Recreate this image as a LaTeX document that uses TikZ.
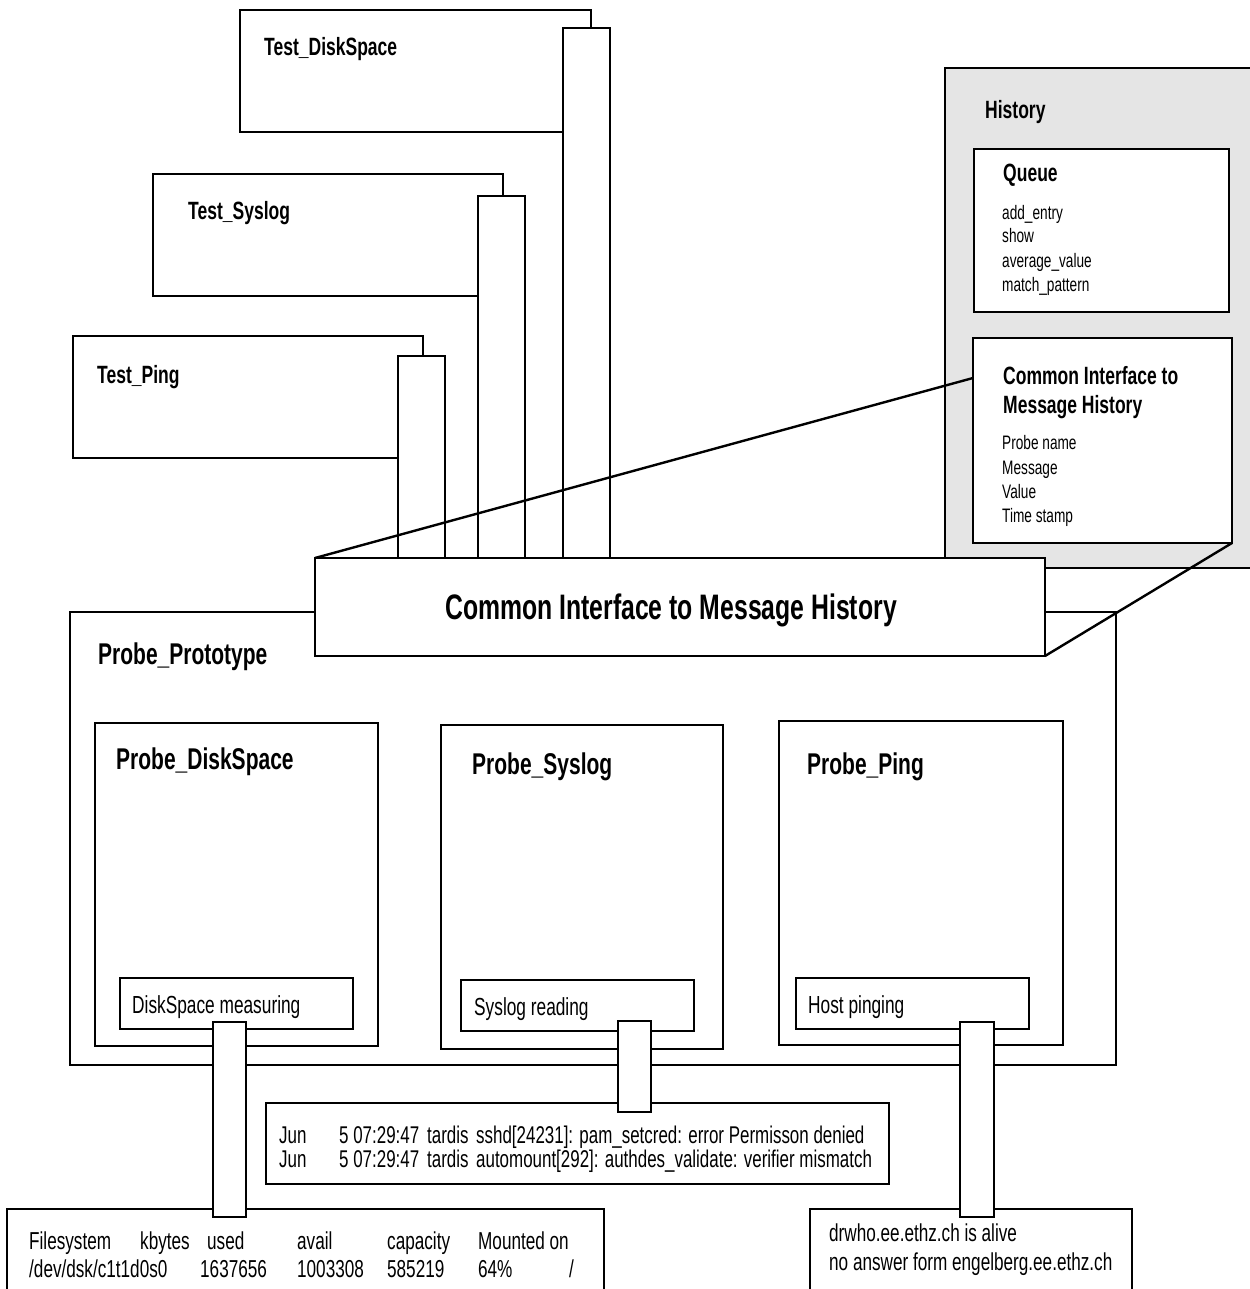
\documentclass[tikz,border=0pt]{standalone}
\usepackage{fontspec}
\setmainfont{Liberation Sans}[FakeStretch=0.7]
\begin{document}
\begin{tikzpicture}[x=1pt,y=-1pt,line width=2.4pt,
  box/.style={draw=black,fill=white,inner sep=0pt,outer sep=0pt,anchor=north west},
  hbox/.style={box,fill=black!10},
  ttl/.style={font=\fontsize{25}{30}\selectfont\bfseries,anchor=base west,inner sep=0pt},
  itm/.style={font=\fontsize{19.5}{24}\selectfont,anchor=base west,inner sep=0pt},
  ptl/.style={font=\fontsize{30}{36}\selectfont\bfseries,anchor=base west,inner sep=0pt},
  lbl/.style={font=\fontsize{24.7}{30}\selectfont,anchor=base west,inner sep=0pt},
  outt/.style={font=\fontsize{24.5}{30}\selectfont,anchor=base west,inner sep=0pt},
  outs/.style={font=\fontsize{24.2}{30}\selectfont,anchor=base west,inner sep=0pt},
  bigt/.style={font=\fontsize{35.4}{42}\selectfont\bfseries,anchor=base,inner sep=0pt}]
\newcommand\bx[6][]{\node[box,#1,minimum width={(#5-#3)*1pt},minimum height={(#6-#4)*1pt}] (#2) at (#3,#4) {};}
\useasboundingbox (0,0) rectangle (1249,1289);
% History
\bx[hbox]{hist}{945}{68}{1258}{568}
\node[ttl] (histT) at (984,119) {History};
\bx{queue}{974}{149}{1229}{312}
\node[ttl] (queueT) at (1002,182) {Queue};
\node[itm] (q1) at (1001,220) {add\_entry};
\node[itm] (q2) at (1001,243) {show};
\node[itm] (q3) at (1001,267) {average\_value};
\node[itm] (q4) at (1001,291) {match\_pattern};
\bx{ciin}{973}{338}{1232}{543}
\node[ttl] (ciinT1) at (1002,384) {Common Interface to};
\node[ttl] (ciinT2) at (1002,413) {Message History};
\node[itm] (c1) at (1001,449) {Probe name};
\node[itm] (c2) at (1001,474) {Message};
\node[itm] (c3) at (1001,498) {Value};
\node[itm] (c4) at (1001,522) {Time stamp};
% Tests
\bx{tdisk}{240}{10}{591}{132}
\node[ttl] (tdiskT) at (263,56) {Test\_DiskSpace};
\bx{tsys}{153}{174}{503}{296}
\node[ttl] (tsysT) at (187,220) {Test\_Syslog};
\bx{tping}{73}{336}{423}{458}
\node[ttl] (tpingT) at (96,383) {Test\_Ping};
\bx{bdisk}{563}{28}{610}{558}
\bx{bsys}{478}{196}{525}{558}
\bx{bping}{398}{356}{445}{558}
% Prototype
\bx{proto}{70}{612}{1116}{1065}
\node[ptl] (protoT) at (97,664) {Probe\_Prototype};
\bx{pdisk}{95}{723}{378}{1046}
\node[ptl] (pdiskT) at (115,769) {Probe\_DiskSpace};
\bx{psys}{441}{725}{723}{1049}
\node[ptl] (psysT) at (471,774) {Probe\_Syslog};
\bx{pping}{779}{721}{1063}{1045}
\node[ptl] (ppingT) at (806,774) {Probe\_Ping};
\bx{dm}{120}{978}{353}{1029}
\node[lbl] (dmT) at (131,1013) {DiskSpace measuring};
\bx{sr}{461}{980}{694}{1031}
\node[lbl] (srT) at (473,1015) {Syslog reading};
\bx{hp}{796}{978}{1029}{1029}
\node[lbl] (hpT) at (807,1013) {Host pinging};
% big common interface
\bx{cibig}{315}{558}{1045}{656}
\node[bigt] (cibigT) at (671,619) {Common Interface to Message History};
% outputs
\bx{osys}{266}{1103}{889}{1184}
\node[outs] (os1) at (278,1143) {\makebox[60pt][l]{Jun}\makebox[88pt][l]{5 07:29:47}\makebox[49pt][l]{tardis}sshd[24231]: pam\_setcred: error Permisson denied};
\node[outs] (os2) at (278,1167) {\makebox[60pt][l]{Jun}\makebox[88pt][l]{5 07:29:47}\makebox[49pt][l]{tardis}automount[292]: authdes\_validate: verifier mismatch};
\bx{odisk}{7}{1209}{604}{1296}
\node[outt] (od1) at (28,1249) {\makebox[111pt][l]{Filesystem}\makebox[67pt][l]{kbytes}\makebox[90pt][l]{used}\makebox[90pt][l]{avail}\makebox[91pt][l]{capacity}Mounted on};
\node[outt] (od2) at (28,1277) {\makebox[171pt][l]{/dev/dsk/c1t1d0s0}\makebox[97pt][l]{1637656}\makebox[90pt][l]{1003308}\makebox[91pt][l]{585219}\makebox[91pt][l]{64\%}/};
\bx{oping}{810}{1209}{1132}{1296}
\node[outt] (op1) at (828,1241) {drwho.ee.ethz.ch is alive};
\node[outt] (op2) at (828,1270) {no answer form engelberg.ee.ethz.ch};
% probe bars
\bx{pbdisk}{213}{1022}{246}{1217}
\bx{pbsys}{618}{1021}{651}{1112}
\bx{pbping}{960}{1022}{994}{1217}
% zoom lines
\coordinate (ciinL) at (973,378);
\draw (cibig.north west) -- (ciinL);
\draw (cibig.south east) -- (ciin.south east);
\end{tikzpicture}
\end{document}
